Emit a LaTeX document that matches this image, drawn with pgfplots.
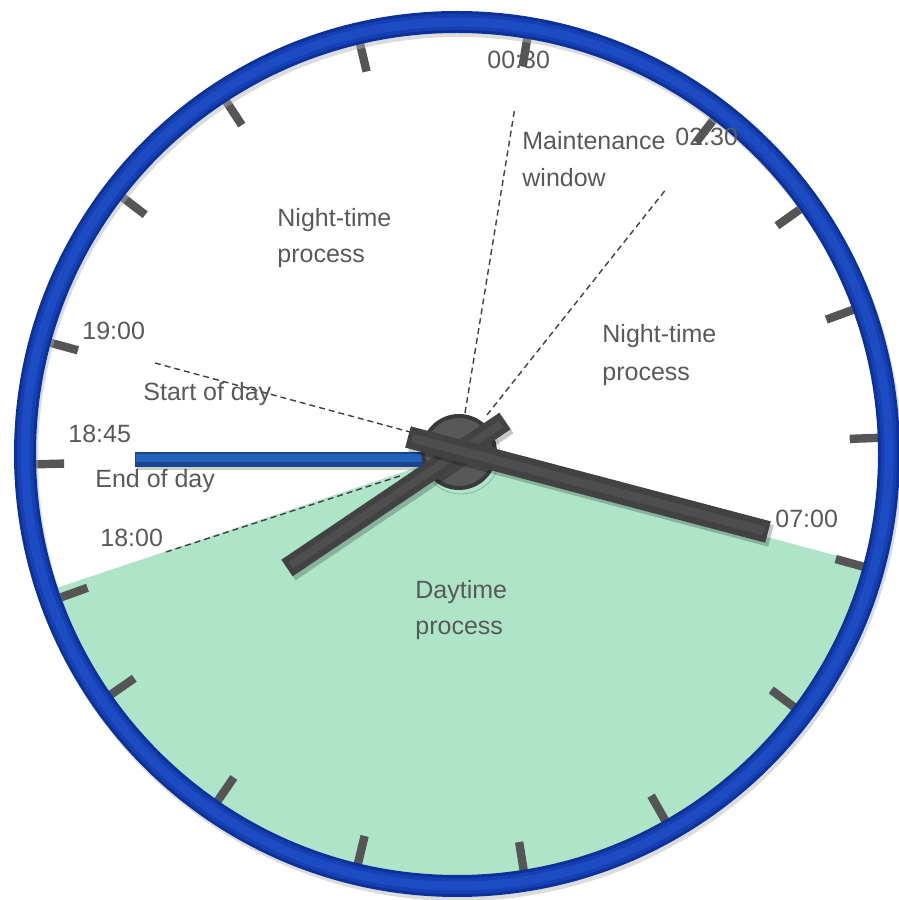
\documentclass[border=0pt]{standalone}
\usepackage{fontspec}
\setmainfont{Liberation Sans}
\usepackage{pgfplots}
\pgfplotsset{compat=1.18}

\definecolor{ringdark}{HTML}{0C3198}
\definecolor{ringmid}{HTML}{1440B4}
\definecolor{ringlight}{HTML}{1C4BC2}
\definecolor{dayfill}{HTML}{AEE5C8}
\definecolor{tickgray}{HTML}{555555}
\definecolor{handgray}{HTML}{424242}
\definecolor{handlight}{HTML}{4E4E4E}
\definecolor{hubgray}{HTML}{585858}
\definecolor{hubedge}{HTML}{3A3A3A}
\definecolor{labelgray}{HTML}{595959}
\definecolor{bluehand}{HTML}{2462BA}
\definecolor{bluehanddark}{HTML}{17458F}

\tikzset{lbl/.style={anchor=base west, inner sep=0pt, text=labelgray,
        font=\fontsize{12.5}{14}\selectfont}}

\begin{document}
\begin{tikzpicture}
\begin{axis}[
    x=0.5pt, y=0.5pt,
    xmin=-457, xmax=442,
    ymin=-446, ymax=454,
    hide axis,
    clip=false,
]
% daytime slice (angle, radius), 07:00 -> 18:00
\addplot[fill=dayfill, draw=none, data cs=polar] coordinates {
(0,0) (198.5,428) (205,428) (215,428) (225,428) (235,428) (245,428)
(255,428) (265,428) (275,428) (285,428) (295,428) (305,428)
(315,428) (325,428) (335,428) (345,428)
};

% clock ticks (angle of each tick)
\pgfplotsinvokeforeach{80.4,103.3,123.2,142.5,164.7,181.4,199.9,214.8,
    235.4,256.4,279.1,299.6,323.1,344.5,2.2,20.0,35.5,52.5}{
  \addplot[tickgray, line width=4.2pt, data cs=polar] coordinates {(#1,393) (#1,424)};
}

% ring
\draw[black!30, line width=11pt, opacity=0.45] (axis cs:2,-4) circle[radius=216pt];
\draw[ringdark, line width=11pt] (axis cs:0,0) circle[radius=216pt];
\draw[ringmid, line width=8pt] (axis cs:0,0) circle[radius=216pt];
\draw[ringlight, line width=4.5pt] (axis cs:0,0) circle[radius=216pt];

% leader lines
\addplot[black!75, line width=0.7pt, dash pattern=on 3pt off 2pt] coordinates {(8,41) (58,347)};
\addplot[black!75, line width=0.7pt, dash pattern=on 3pt off 2pt] coordinates {(30,39) (210,266)};
\addplot[black!75, line width=0.7pt, dash pattern=on 3pt off 2pt] coordinates {(-302,91) (-47,22)};
\addplot[black!75, line width=0.7pt, dash pattern=on 3pt off 2pt] coordinates {(-291,-98) (-57,-22)};

% labels
\node[lbl] at (axis cs:30,385) {00:30};
\node[lbl] at (axis cs:218,308) {02:30};
\node[lbl] at (axis cs:65,304) {Maintenance};
\node[lbl] at (axis cs:65,267) {window};
\node[lbl] at (axis cs:-180,227) {Night-time};
\node[lbl] at (axis cs:-180,191) {process};
\node[lbl] at (axis cs:145,111) {Night-time};
\node[lbl] at (axis cs:145,73) {process};
\node[lbl] at (axis cs:-375,114) {19:00};
\node[lbl] at (axis cs:-314,53) {Start of day};
\node[lbl] at (axis cs:-389,11) {18:45};
\node[lbl] at (axis cs:-362,-34) {End of day};
\node[lbl] at (axis cs:-357,-93) {18:00};
\node[lbl] at (axis cs:318,-74) {07:00};
\node[lbl] at (axis cs:-42,-145) {Daytime};
\node[lbl] at (axis cs:-42,-181) {process};

% blue hand (18:45)
\addplot[black, opacity=0.2, line width=7.5pt, xshift=1pt, yshift=-1.5pt] coordinates {(-322,-5.5) (-17,-5.5)};
\addplot[bluehanddark, line width=7.5pt] coordinates {(-322,-5.5) (-17,-5.5)};
\addplot[bluehand, line width=4pt, yshift=0.8pt] coordinates {(-321,-5.5) (-17,-5.5)};

% hub
\draw[black, opacity=0.2] (axis cs:4,-1) circle[radius=19.5pt];
\draw[hubedge, fill=hubgray, line width=2pt] (axis cs:2,2) circle[radius=18pt];

% short hand
\addplot[black, opacity=0.22, line width=10pt, xshift=1.5pt, yshift=-2pt] coordinates {(-170,-114) (48,33)};
\addplot[handgray, line width=10pt] coordinates {(-170,-114) (48,33)};
\addplot[handlight, line width=4pt] coordinates {(-166,-111) (44,30)};

% long hand
\addplot[black, opacity=0.22, line width=11pt, xshift=1.5pt, yshift=-2pt] coordinates {(-49,17) (311,-78)};
\addplot[handgray, line width=11pt] coordinates {(-49,17) (311,-78)};
\addplot[handlight, line width=4.5pt] coordinates {(-45,16) (307,-77)};
\end{axis}
\pgfresetboundingbox
\path (current axis.south west) rectangle (current axis.north east);
\end{tikzpicture}
\end{document}
